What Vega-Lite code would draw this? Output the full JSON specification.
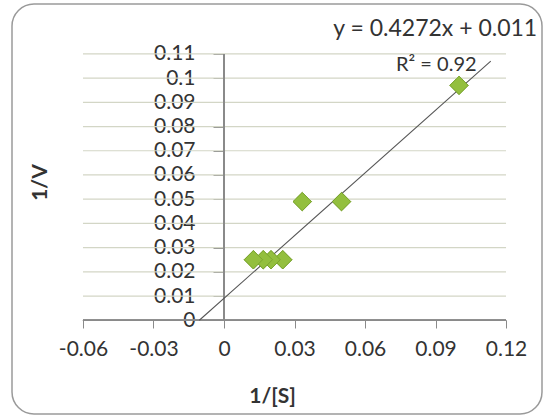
{
  "$schema": "https://vega.github.io/schema/vega-lite/v6.json",
  "width": 530,
  "height": 410,
  "autosize": {"type": "none"},
  "padding": {"left": 12, "top": 4, "right": 1, "bottom": 3},
  "background": "white",
  "config": {
    "view": {"stroke": "#9a9a9a", "strokeWidth": 1.5, "cornerRadius": 22, "fill": "white"},
    "font": "Lato",
    "axis": {"labelColor": "#333333", "titleColor": "#333333", "tickColor": "#8a8a8a"}
  },
  "datasets": {
    "points": [
      {"s": 0.1, "v": 0.097},
      {"s": 0.05, "v": 0.049},
      {"s": 0.0333, "v": 0.049},
      {"s": 0.025, "v": 0.025},
      {"s": 0.02, "v": 0.025},
      {"s": 0.0167, "v": 0.025},
      {"s": 0.0125, "v": 0.025}
    ],
    "grid": [
      {"g": 0.01}, {"g": 0.02}, {"g": 0.03}, {"g": 0.04}, {"g": 0.05}, {"g": 0.06},
      {"g": 0.07}, {"g": 0.08}, {"g": 0.09}, {"g": 0.1}, {"g": 0.11}
    ],
    "trend": [
      {"s": -0.0105, "v": 0},
      {"s": 0.1135, "v": 0.107}
    ]
  },
  "layer": [
    {
      "data": {"name": "points"},
      "mark": {"type": "point", "shape": "diamond", "filled": true, "size": 340, "fill": "#93bf3e", "stroke": "#76a02c", "strokeWidth": 0.8, "opacity": 1},
      "encoding": {
        "x": {
          "field": "s", "type": "quantitative",
          "scale": {"domain": [-0.0902, 0.1353], "nice": false, "zero": false},
          "axis": {
            "values": [-0.06, -0.03, 0, 0.03, 0.06, 0.09, 0.12],
            "tickCount": 30,
            "labelExpr": "'' + datum.value",
            "offset": -94,
            "domain": false,
            "grid": false,
            "tickSize": 8,
            "labelPadding": 10,
            "labelFontSize": 21,
            "labelFlush": false,
            "labelOverlap": false,
            "title": "1/[S]",
            "titleFontSize": 21,
            "titleFontWeight": "bold",
            "titleX": 260,
            "titleY": 76,
            "titleBaseline": "middle",
            "titleAlign": "center"
          }
        },
        "y": {
          "field": "v", "type": "quantitative",
          "scale": {"domain": [-0.0387, 0.1306], "nice": false, "zero": false},
          "axis": {
            "values": [0, 0.01, 0.02, 0.03, 0.04, 0.05, 0.06, 0.07, 0.08, 0.09, 0.1, 0.11],
            "tickCount": 30,
            "labelExpr": "'' + datum.value",
            "offset": -211,
            "domain": false,
            "grid": false,
            "tickSize": 10,
            "labelPadding": 18,
            "labelFontSize": 21,
            "labelFlush": false,
            "labelOverlap": false,
            "title": "1/V",
            "titleFontSize": 21,
            "titleFontWeight": "bold",
            "titleX": -183,
            "titleY": 178,
            "titleAngle": -90,
            "titleBaseline": "middle",
            "titleAlign": "center"
          }
        }
      }
    },
    {
      "data": {"name": "grid"},
      "mark": {"type": "rule", "color": "#d3d6c6", "strokeWidth": 1.2},
      "encoding": {
        "y": {"field": "g", "type": "quantitative"},
        "x": {"datum": -0.06, "type": "quantitative"},
        "x2": {"datum": 0.12}
      }
    },
    {
      "data": {"name": "grid"},
      "mark": {"type": "rule", "color": "#8a8a8a", "strokeWidth": 1.2},
      "encoding": {
        "y": {"datum": 0, "type": "quantitative"},
        "x": {"datum": -0.06, "type": "quantitative"},
        "x2": {"datum": 0.12}
      }
    },
    {
      "data": {"name": "grid"},
      "mark": {"type": "rule", "color": "#8a8a8a", "strokeWidth": 1.2},
      "encoding": {
        "x": {"datum": 0, "type": "quantitative"},
        "y": {"datum": 0, "type": "quantitative"},
        "y2": {"datum": 0.11}
      }
    },
    {
      "data": {"name": "trend"},
      "mark": {"type": "line", "color": "#555555", "strokeWidth": 1.1},
      "encoding": {
        "x": {"field": "s", "type": "quantitative"},
        "y": {"field": "v", "type": "quantitative"}
      }
    },
    {
      "data": {"name": "points"},
      "mark": {"type": "point", "shape": "diamond", "filled": true, "size": 340, "fill": "#93bf3e", "stroke": "#76a02c", "strokeWidth": 0.8, "opacity": 1},
      "encoding": {
        "x": {"field": "s", "type": "quantitative"},
        "y": {"field": "v", "type": "quantitative"}
      }
    },
    {
      "data": {"values": [{"t": "y = 0.4272x + 0.011"}]},
      "mark": {"type": "text", "align": "left", "baseline": "middle", "fontSize": 23, "color": "#333333"},
      "encoding": {
        "x": {"datum": 0.0465, "type": "quantitative"},
        "y": {"datum": 0.1203, "type": "quantitative"},
        "text": {"field": "t"}
      }
    },
    {
      "data": {"values": [{"t": "R² = 0.92"}]},
      "mark": {"type": "text", "align": "left", "baseline": "middle", "fontSize": 20, "color": "#333333"},
      "encoding": {
        "x": {"datum": 0.0732, "type": "quantitative"},
        "y": {"datum": 0.1055, "type": "quantitative"},
        "text": {"field": "t"}
      }
    }
  ]
}
